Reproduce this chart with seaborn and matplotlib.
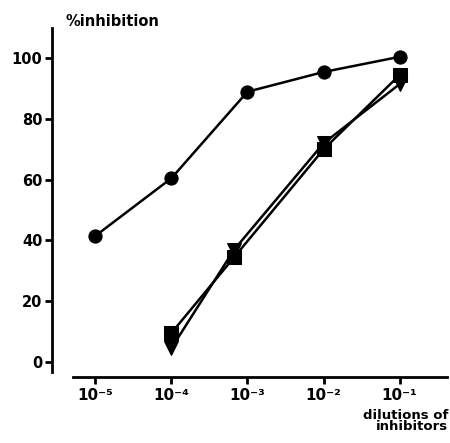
import matplotlib
matplotlib.use("Agg")
import matplotlib.pyplot as plt
import seaborn as sns
import numpy as np
import pandas as pd

# Datos (dilución vs % inhibición)
dil_circle = [1e-5, 1e-4, 1e-3, 1e-2, 1e-1]
inh_circle = [41.5, 60.5, 89, 95.5, 100.5]

dil_square = [1e-4, 6.7e-4, 1e-2, 1e-1]
inh_square = [9.5, 34.5, 70, 94.5]

dil_triangle = [1e-4, 6.7e-4, 1e-2, 1e-1]
inh_triangle = [4.5, 37, 72, 91.5]

xtick_values = [1e-5, 1e-4, 1e-3, 1e-2, 1e-1]
xtick_labels = ["10⁻⁵", "10⁻⁴", "10⁻³", "10⁻²", "10⁻¹"]
ytick_values = [0, 20, 40, 60, 80, 100]

sns.set_style("ticks")
plt.rcParams["font.family"] = ["DejaVu Sans"]
plt.rcParams["font.weight"] = "bold"
plt.rcParams["text.color"] = "black"
plt.rcParams["xtick.color"] = "black"
plt.rcParams["ytick.color"] = "black"
plt.rcParams["axes.edgecolor"] = "black"

df = pd.concat([
    pd.DataFrame({"dil": dil_circle, "inh": inh_circle, "serie": "circle"}),
    pd.DataFrame({"dil": dil_square, "inh": inh_square, "serie": "square"}),
    pd.DataFrame({"dil": dil_triangle, "inh": inh_triangle, "serie": "triangle"}),
], ignore_index=True)

fig = plt.figure(figsize=(4.5, 4.43), dpi=100)
ax = fig.add_axes([52 / 450, 1 - 377 / 443, 397 / 450, (377 - 28) / 443])

sns.lineplot(data=df, x="dil", y="inh", hue="serie", style="serie",
             palette=["black", "black", "black"],
             markers={"circle": "o", "square": "s", "triangle": "v"},
             dashes=False, markersize=9.5, linewidth=1.8,
             markeredgecolor="black", legend=False, ax=ax)

ax.set_xscale("log")
ax.set_xlim(10 ** -5.57, 10 ** -0.35)
ax.set_ylim(-5, 110)
ax.set_xticks(xtick_values)
ax.set_xticklabels(xtick_labels, fontsize=11, fontweight="bold")
ax.minorticks_off()
ax.set_yticks(ytick_values)
ax.set_yticklabels([str(v) for v in ytick_values], fontsize=10.5, fontweight="bold")
ax.set_xlabel("")
ax.set_ylabel("")

sns.despine(ax=ax)
for s in ["left", "bottom"]:
    ax.spines[s].set_linewidth(2)
ax.spines["bottom"].set_bounds(10 ** -5.3, 10 ** -0.37)
ax.spines["left"].set_bounds(-3.5, 110)
ax.tick_params(axis="both", width=2, length=5)
ax.tick_params(axis="x", pad=3)
ax.tick_params(axis="y", pad=2)

fig.text(112 / 450, 1 - 22 / 443, "%inhibition", ha="center", va="center",
         fontsize=10.5, fontweight="bold")
fig.text(448 / 450, 1 - 421 / 443, "dilutions of\ninhibitors", ha="right", va="center",
         multialignment="right", fontsize=9.5, fontweight="bold", linespacing=0.8)

fig.savefig("out.png", dpi=100)
